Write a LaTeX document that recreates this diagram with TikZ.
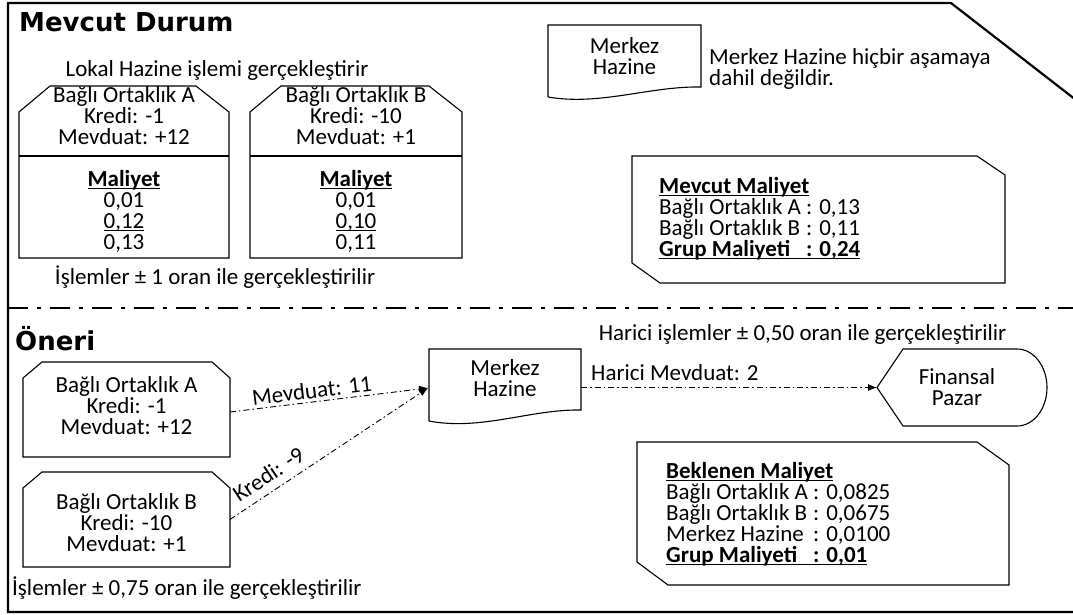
\documentclass[tikz,border=0pt]{standalone}
\usepackage{fontspec}
\setmainfont{Carlito}
\newfontfamily\titlefont{DejaVu Sans}
\usetikzlibrary{arrows.meta,calc}
\newlength\colw
\AtBeginDocument{\setbox0\hbox{\fontsize{23}{21}\selectfont Bağlı Ortaklık A }\global\colw=\wd0}
\newcommand\myul[1]{\setbox0\hbox{#1}\rlap{\rule[-2.6pt]{\wd0}{1.1pt}}\box0}
\newcommand\cl[1]{\makebox[\colw][l]{#1}}
\begin{document}
\begin{tikzpicture}[x=1pt,y=-1pt,
  body/.style={font=\fontsize{23}{21}\selectfont, inner sep=0pt},
  ttl/.style={font=\titlefont\bfseries\fontsize{26}{30}\selectfont, inner sep=0pt},
  shp/.style={draw, line width=1.1pt},
  frame/.style={line width=2.2pt},
  sep/.style={line width=2.6pt, dash pattern=on 20pt off 9pt on 4pt off 9pt},
  conn/.style={line width=0.9pt, dash pattern=on 6pt off 3pt on 1.5pt off 3pt, -{Latex[length=9pt,width=7pt]}},
  holder/.style={inner sep=0pt, outer sep=0pt}
]
\useasboundingbox (0,0) rectangle (1073,615);
\fill[white] (0,0) rectangle (1073,615);

% frame and separator
\draw[frame] (1085,107) -- (951,3) -- (8,3) -- (8,612) -- (1085,612);
\draw[sep] (8,308) -- (1073,308);

% titles
\node[ttl, anchor=base west] (t1) at (19,32) {Mevcut Durum};
\node[ttl, anchor=base west] (t2) at (15,350) {Öneri};

% ---------- Mevcut Durum ----------
\node[body, anchor=base] (lokal) at (217,77) {Lokal Hazine işlemi gerçekleştirir};

\node[holder, minimum width=210, minimum height=172] (ua) at (124,172) {};
\draw[shp] ($(ua.north west)+(0,26)$) -- ($(ua.north west)+(31,0)$) -- ($(ua.north east)+(-33,0)$) -- ($(ua.north east)+(0,26)$) -- (ua.south east) -- (ua.south west) -- cycle;
\draw[shp] ($(ua.north west)+(0,70)$) -- ($(ua.north east)+(0,70)$);
\node[body, align=center] (uat) at (124,116) {Bağlı Ortaklık A\\Kredi: -1\\Mevduat: +12};
\node[body, align=center] (uam) at (124,211.5) {\myul{\textbf{Maliyet}}\\0,01\\\myul{0,12}\\0,13};

\node[holder, minimum width=212, minimum height=172] (ub) at (356,172) {};
\draw[shp] ($(ub.north west)+(0,26)$) -- ($(ub.north west)+(31,0)$) -- ($(ub.north east)+(-33,0)$) -- ($(ub.north east)+(0,26)$) -- (ub.south east) -- (ub.south west) -- cycle;
\draw[shp] ($(ub.north west)+(0,70)$) -- ($(ub.north east)+(0,70)$);
\node[body, align=center] (ubt) at (356,116) {Bağlı Ortaklık B\\Kredi: -10\\Mevduat: +1};
\node[body, align=center] (ubm) at (356,211.5) {\myul{\textbf{Maliyet}}\\0,01\\\myul{0,10}\\0,11};

\node[body, anchor=base] (isl1) at (215,284) {İşlemler ± 1 oran ile gerçekleştirilir};

\node[holder, minimum width=153, minimum height=62] (mz1) at (624.5,56) {};
\draw[shp] ($(mz1.south west)+(0,10)$) -- (mz1.north west) -- (mz1.north east) -- (mz1.south east) .. controls ($(mz1.south west)+(102,-1)$) and ($(mz1.south west)+(52,19)$) .. ($(mz1.south west)+(0,10)$);
\node[body, align=center] (mz1t) at (mz1.center) {Merkez\\Hazine};

\node[body, align=left, anchor=west] (note) at (709,68.5) {Merkez Hazine hiçbir aşamaya\\dahil değildir.};

\node[holder, minimum width=373, minimum height=127] (mm) at (818.5,219.5) {};
\draw[shp] (mm.north west) -- ($(mm.north east)+(-28,0)$) -- ($(mm.north east)+(0,19)$) -- (mm.south east) -- ($(mm.south west)+(28,0)$) -- ($(mm.south west)+(0,-20)$) -- cycle;
\node[body, align=left, anchor=west] (mmt) at (659,218.5) {\myul{\textbf{Mevcut Maliyet}}\\\cl{Bağlı Ortaklık A}: 0,13\\\cl{Bağlı Ortaklık B}: 0,11\\\myul{\textbf{\cl{Grup Maliyeti}: 0,24}}};

% ---------- Öneri ----------
\node[holder, minimum width=207, minimum height=95] (la) at (126.5,409.5) {};
\draw[shp] ($(la.north west)+(0,16)$) -- ($(la.north west)+(19,0)$) -- ($(la.north east)+(-18,0)$) -- ($(la.north east)+(0,16)$) -- (la.south east) -- (la.south west) -- cycle;
\node[body, align=center] (lat) at (126.5,406) {Bağlı Ortaklık A\\Kredi: -1\\Mevduat: +12};

\node[holder, minimum width=207, minimum height=95] (lb) at (126.5,519.5) {};
\draw[shp] ($(lb.north west)+(0,16)$) -- ($(lb.north west)+(19,0)$) -- ($(lb.north east)+(-18,0)$) -- ($(lb.north east)+(0,16)$) -- (lb.south east) -- (lb.south west) -- cycle;
\node[body, align=center] (lbt) at (126.5,523) {Bağlı Ortaklık B\\Kredi: -10\\Mevduat: +1};

\node[body, anchor=base west] (isl2) at (12,595) {İşlemler ± 0,75 oran ile gerçekleştirilir};

\node[holder, minimum width=152, minimum height=61] (mz2) at (505,379.5) {};
\draw[shp] ($(mz2.south west)+(0,11)$) -- (mz2.north west) -- (mz2.north east) -- (mz2.south east) .. controls ($(mz2.south west)+(102,-1)$) and ($(mz2.south west)+(52,21)$) .. ($(mz2.south west)+(0,11)$);
\node[body, align=center] (mz2t) at (505,378.5) {Merkez\\Hazine};

\node[body, anchor=base] (har) at (802.5,340) {Harici işlemler ± 0,50 oran ile gerçekleştirilir};
\node[body, anchor=base west] (harm) at (591,380) {Harici Mevduat: 2};

\node[holder, minimum width=170, minimum height=77] (fp) at (962,387.5) {};
\draw[shp] (fp.west) -- ($(fp.north west)+(26,0)$) -- ($(fp.north east)+(-30,0)$) .. controls +(16.6,0) and +(0,-21.3) .. (fp.east) .. controls +(0,21.3) and +(16.6,0) .. ($(fp.south east)+(-30,0)$) -- ($(fp.south west)+(26,0)$) -- cycle;
\node[body, align=center] (fpt) at (957,387) {Finansal\\Pazar};

\node[holder, minimum width=372, minimum height=143] (bm) at (823,513.5) {};
\draw[shp] (bm.north west) -- ($(bm.north east)+(-32,0)$) -- ($(bm.north east)+(0,23)$) -- (bm.south east) -- ($(bm.south west)+(31,0)$) -- ($(bm.south west)+(0,-23)$) -- cycle;
\node[body, align=left, anchor=west] (bmt) at (666,514) {\myul{\textbf{Beklenen Maliyet}}\\\cl{Bağlı Ortaklık A}: 0,0825\\\cl{Bağlı Ortaklık B}: 0,0675\\\cl{Merkez Hazine}: 0,0100\\\myul{\textbf{\cl{Grup Maliyeti}: 0,01}}};

% connectors
\coordinate (mzin) at ($(mz2.west)+(-1,8.5)$);
\coordinate (laout) at ($(la.east)+(0,2.5)$);
\draw[conn] (laout) -- node[body, sloped, above=3pt, pos=0.42] (l1) {Mevduat: 11} (mzin);
\draw[conn] (lb.east) -- node[body, sloped, above=8pt, pos=0.24] (l2) {Kredi: -9} (mzin);
\draw[conn] (mz2.east |- fp.west) -- (fp.west);
\end{tikzpicture}
\end{document}
